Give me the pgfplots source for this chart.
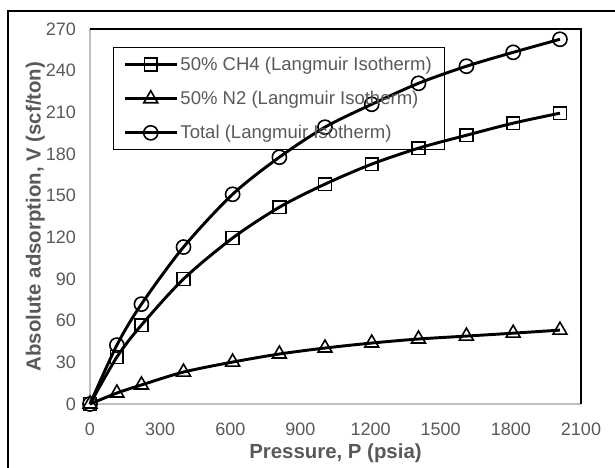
\documentclass[border=0pt]{standalone}
\usepackage{pgfplots}
\pgfplotsset{compat=1.18}
\usepackage{fontspec}
\setmainfont{Liberation Sans}
\definecolor{txtgray}{HTML}{595959}
\definecolor{spine}{HTML}{BFBFBF}
\begin{document}
\begin{tikzpicture}[x=0.75pt,y=0.75pt]
\useasboundingbox (0,0) rectangle (615,-468);
\draw[line width=1.3pt] (8,-468) -- (8,-11) -- (615,-11);
\begin{axis}[
    at={(67.5pt,-303pt)}, anchor=origin,
    scale only axis,
    width=368.25pt, height=281.25pt,
    xmin=0, xmax=2100, ymin=0, ymax=270,
    xtick={0,300,...,2100},
    ytick={0,30,...,270},
    major tick length=0pt,
    /pgf/number format/assume math mode=true,
    /pgf/number format/set thousands separator={},
    tick label style={font=\fontsize{13.5}{15}\selectfont, text=txtgray},
    xticklabel style={yshift=-11pt},
    yticklabel style={xshift=-7pt},
    xlabel={\textbf{Pressure, P (psia)}},
    ylabel={\textbf{Absolute adsorption, V (scf/ton)}},
    label style={font=\fontsize{15.3}{17}\selectfont, text=txtgray},
    xlabel style={yshift=1pt},
    ylabel style={yshift=-6pt},
    axis line style={draw=none},
    clip=false,
    legend style={at={(0.047,0.952)}, anchor=north west, draw=black, line width=0.9pt,
      fill=none,
      font=\fontsize{13.9}{15}\selectfont, text=txtgray, row sep=10pt,
      inner xsep=7.5pt, inner ysep=5pt},
    legend cell align=left,
    legend image code/.code={
      \draw[mark repeat=2,mark phase=2,#1] plot coordinates {(0cm,0cm) (0.675cm,0cm) (1.35cm,0cm)};
    },
    every axis plot/.append style={line width=2.2pt, black, mark options={solid, fill=white, line width=1.2pt, scale=1}},
]
% frame: light gray left/bottom, black top/right
\draw[spine, line width=1.2pt] (rel axis cs:0,1) -- (rel axis cs:0,0) -- (rel axis cs:1,0);
\draw[black, line width=1.1pt] (rel axis cs:0,1) -- (rel axis cs:1,1) -- (rel axis cs:1,0);
\addplot[smooth, mark=square, mark size=4.8pt] coordinates {
  (0,0) (115,33.8) (220,56.8) (400,90) (610,119.5) (810,141.7) (1005,158.3)
  (1205,172.7) (1405,184.2) (1610,193.5) (1810,202.2) (2010,209.4)};
\addlegendentry{50\% CH4 (Langmuir Isotherm)}
\addplot[smooth, mark=triangle, mark size=6pt] coordinates {
  (0,0) (115,7.9) (220,13.7) (400,23) (610,30.2) (810,36) (1005,40.3)
  (1205,43.9) (1405,46.8) (1610,48.9) (1810,51) (2010,53.2)};
\addlegendentry{50\% N2 (Langmuir Isotherm)}
\addplot[smooth, mark=o, mark size=5.3pt] coordinates {
  (0,0) (115,42.4) (220,71.9) (400,113) (610,151) (810,177.7) (1005,199.3)
  (1205,215.8) (1405,230.9) (1610,243.2) (1810,253.2) (2010,262.6)};
\addlegendentry{Total (Langmuir Isotherm)}
\end{axis}
\end{tikzpicture}
\end{document}
